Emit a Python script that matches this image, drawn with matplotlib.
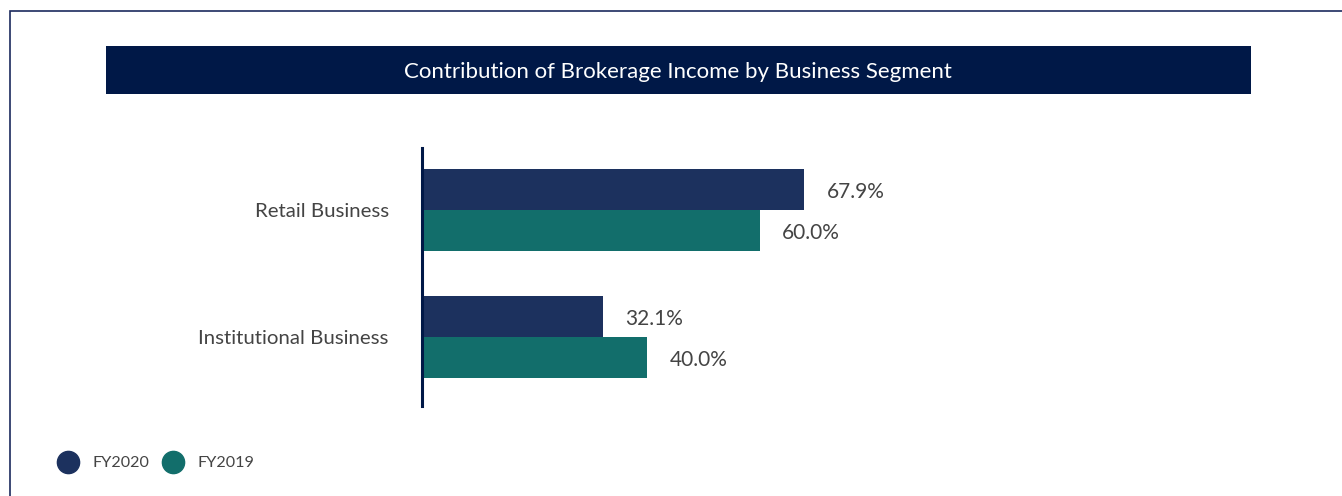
import matplotlib.pyplot as plt
from matplotlib.patches import Rectangle
from matplotlib.lines import Line2D
import numpy as np

# data
categories = ['Retail Business', 'Institutional Business']
fy2020 = [67.9, 32.1]
fy2019 = [60.0, 40.0]
series_names = ['FY2020', 'FY2019']
title = 'Contribution of Brokerage Income by Business Segment'

navy = '#1c315e'
teal = '#126e6b'
bar_dark = '#001847'
text_col = '#444444'

plt.rcParams['font.family'] = ['Lato', 'DejaVu Sans']

W, H = 1342, 496
fig = plt.figure(figsize=(W / 100, H / 100), dpi=100)

def fx(px):
    return px / W

def fy(py):
    return 1 - py / H

# outer frame (runs off right and bottom)
fig.patches.append(Rectangle((fx(10), -0.02), 1.05, fy(11) + 0.02,
                             transform=fig.transFigure, fill=False,
                             edgecolor='#1b2a5e', linewidth=1.2))

# title bar
fig.patches.append(Rectangle((fx(106), fy(94)), fx(1251) - fx(106), fy(46) - fy(94),
                             transform=fig.transFigure, facecolor=bar_dark,
                             edgecolor='none'))
fig.text(fx(678), fy(72), title, color='white', fontsize=16,
         ha='center', va='center')

# chart axes
ax = fig.add_axes([fx(422), fy(406), fx(985) - fx(422), fy(148) - fy(406)])
y = np.arange(len(categories))
h = 0.323
ax.barh(y - h / 2, fy2020, height=h, color=navy, label=series_names[0])
ax.barh(y + h / 2, fy2019, height=h, color=teal, label=series_names[1])
ax.set_xlim(0, 100)
ax.set_ylim(1.543, -0.488)

for yy, v in zip(y - h / 2, fy2020):
    ax.annotate(f'{v:.1f}%', (v, yy), xytext=(16, -1.5), textcoords='offset points',
                va='center', ha='left', fontsize=15, color=text_col)
for yy, v in zip(y + h / 2, fy2019):
    ax.annotate(f'{v:.1f}%', (v, yy), xytext=(16, -1.5), textcoords='offset points',
                va='center', ha='left', fontsize=15, color=text_col)

ax.set_yticks(y)
ax.set_yticklabels(categories, fontsize=14.7, color=text_col, va='top')
ax.tick_params(axis='y', length=0, pad=24)
ax.set_xticks([])
for s in ['top', 'right', 'bottom']:
    ax.spines[s].set_visible(False)
ax.spines['left'].set_color(bar_dark)
ax.spines['left'].set_linewidth(2.2)
for lab in ax.get_yticklabels():
    lab.set_va('center_baseline')

# legend
handles = [Line2D([], [], marker='o', linestyle='none', markersize=16,
                  markerfacecolor=c, markeredgecolor=c) for c in (navy, teal)]
fig.legend(handles, series_names, loc='center left',
           bbox_to_anchor=(fx(56), fy(463)), ncol=2, frameon=False,
           fontsize=11.6, labelcolor=text_col, handlelength=1.5,
           handletextpad=0.75, columnspacing=0.75, borderpad=0, borderaxespad=0)

fig.savefig('out.png', dpi=100)
